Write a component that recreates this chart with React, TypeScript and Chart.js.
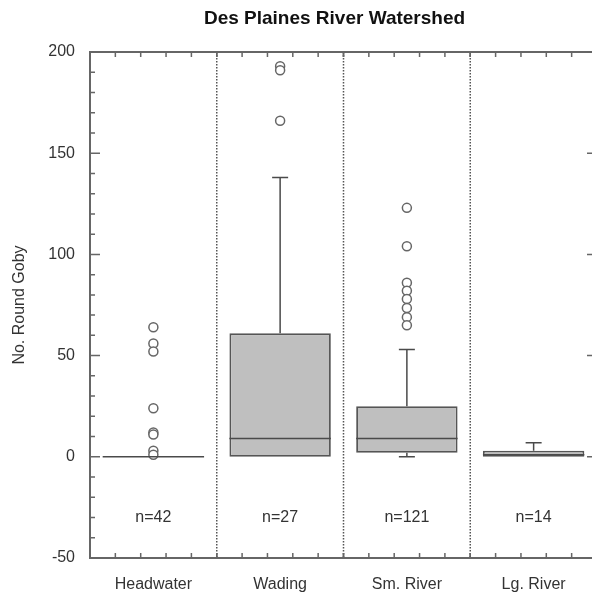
import React, { useEffect, useRef } from "react";
import { Chart, registerables } from "chart.js";

Chart.register(...registerables);

const titleText = "Des Plaines River Watershed";
const yAxisTitle = "No. Round Goby";
const categories = ["Headwater", "Wading", "Sm. River", "Lg. River"];
const q1 = [0, 0, 2, 0];
const q3 = [0, 61, 25, 3];
const medians = [0, 9, 9, 1];
const whiskerLow = [0, 0, 0, 0];
const whiskerHigh = [0, 138, 53, 7];
const nCounts = [42, 27, 121, 14];
const headwaterOutliers = [64, 56, 52, 24, 12, 11, 3, 1];
const wadingOutliers = [193, 191, 166];
const smRiverOutliers = [123, 104, 86, 82, 78, 73.5, 69, 65];
const lgRiverOutliers: number[] = [];
const yMin = -50;
const yMax = 200;
const yMajorStep = 50;
const yMinorStep = 10;
const nLabelValue = -30;

const FONT = "'Liberation Sans', Arial, Helvetica, sans-serif";

const outlierGroups = [headwaterOutliers, wadingOutliers, smRiverOutliers, lgRiverOutliers];

const decorPlugin = {
  id: "boxDecor",
  afterDatasetsDraw(chart: any) {
    const { ctx, chartArea: a, scales } = chart;
    const x = scales.x;
    const y = scales.y;
    const meta = chart.getDatasetMeta(0);
    const n = categories.length;
    ctx.save();

    // dotted dividers
    ctx.strokeStyle = "#555";
    ctx.lineWidth = 1.5;
    ctx.setLineDash([1.5, 1.5]);
    for (let i = 1; i < n; i++) {
      const xp = (x.getPixelForValue(i - 1) + x.getPixelForValue(i)) / 2;
      ctx.beginPath();
      ctx.moveTo(xp, a.top);
      ctx.lineTo(xp, a.bottom);
      ctx.stroke();
    }
    ctx.setLineDash([]);

    // medians and whiskers
    ctx.strokeStyle = "#4a4a4a";
    ctx.lineWidth = 1.5;
    for (let i = 0; i < n; i++) {
      const cx = x.getPixelForValue(i);
      const bar = meta.data[i];
      const half = bar ? bar.width / 2 : 50;
      const capHalf = 8;
      ctx.beginPath();
      ctx.moveTo(cx - half, y.getPixelForValue(medians[i]));
      ctx.lineTo(cx + half, y.getPixelForValue(medians[i]));
      ctx.stroke();
      if (whiskerHigh[i] > q3[i]) {
        const yt = y.getPixelForValue(whiskerHigh[i]);
        ctx.beginPath();
        ctx.moveTo(cx, y.getPixelForValue(q3[i]));
        ctx.lineTo(cx, yt);
        ctx.moveTo(cx - capHalf, yt);
        ctx.lineTo(cx + capHalf, yt);
        ctx.stroke();
      }
      if (whiskerLow[i] < q1[i]) {
        const yb = y.getPixelForValue(whiskerLow[i]);
        ctx.beginPath();
        ctx.moveTo(cx, y.getPixelForValue(q1[i]));
        ctx.lineTo(cx, yb);
        ctx.moveTo(cx - capHalf, yb);
        ctx.lineTo(cx + capHalf, yb);
        ctx.stroke();
      }
    }

    // n labels
    ctx.fillStyle = "#333";
    ctx.font = `16px ${FONT}`;
    ctx.textAlign = "center";
    ctx.textBaseline = "middle";
    for (let i = 0; i < n; i++) {
      ctx.fillText("n=" + nCounts[i], x.getPixelForValue(i), y.getPixelForValue(nLabelValue));
    }

    // frame
    ctx.strokeStyle = "#666";
    ctx.lineWidth = 2;
    ctx.strokeRect(a.left, a.top, a.right - a.left, a.bottom - a.top);

    // y ticks (inside, both sides)
    ctx.lineWidth = 1.5;
    for (let v = yMin; v <= yMax; v += yMinorStep) {
      const yp = y.getPixelForValue(v);
      const len = v % yMajorStep === 0 ? 10 : 5;
      ctx.beginPath();
      ctx.moveTo(a.left, yp);
      ctx.lineTo(a.left + len, yp);
      ctx.moveTo(a.right, yp);
      ctx.lineTo(a.right - len, yp);
      ctx.stroke();
    }
    // x ticks (inside, top and bottom), 5 per category
    for (let i = 0; i < n; i++) {
      const left = i === 0 ? x.left : (x.getPixelForValue(i - 1) + x.getPixelForValue(i)) / 2;
      const right = i === n - 1 ? x.right : (x.getPixelForValue(i) + x.getPixelForValue(i + 1)) / 2;
      for (let k = 0; k <= 5; k++) {
        const xp = left + ((right - left) * k) / 5;
        ctx.beginPath();
        ctx.moveTo(xp, a.top);
        ctx.lineTo(xp, a.top + 5);
        ctx.moveTo(xp, a.bottom);
        ctx.lineTo(xp, a.bottom - 5);
        ctx.stroke();
      }
    }

    // title
    ctx.fillStyle = "#111";
    ctx.font = `bold 19px ${FONT}`;
    ctx.textAlign = "center";
    ctx.textBaseline = "middle";
    ctx.fillText(titleText, (a.left + a.right) / 2 - 9, 19);

    ctx.restore();
  },
};

export default function App() {
  const ref = useRef<HTMLCanvasElement | null>(null);

  useEffect(() => {
    if (!ref.current) return;
    const outlierPoints: { x: string; y: number }[] = [];
    outlierGroups.forEach((g, i) => g.forEach((v) => outlierPoints.push({ x: categories[i], y: v })));

    const chart = new Chart(ref.current, {
      type: "bar",
      data: {
        labels: categories,
        datasets: [
          {
            type: "bar",
            data: categories.map((_, i) => [q1[i], q3[i]]) as any,
            backgroundColor: "#bfbfbf",
            borderColor: "#555",
            borderWidth: 1.8,
            borderSkipped: false,
            barPercentage: 0.8,
            categoryPercentage: 1,
            order: 2,
          },
          {
            type: "line",
            data: outlierPoints as any,
            showLine: false,
            pointRadius: 4.5,
            pointBorderWidth: 1.5,
            pointBorderColor: "#666",
            pointBackgroundColor: "#fff",
            order: 1,
          } as any,
        ],
      },
      options: {
        responsive: false,
        animation: false,
        devicePixelRatio: 1,
        layout: { padding: { top: 52, right: 2, bottom: 0, left: 0 } },
        plugins: {
          legend: { display: false },
          tooltip: { enabled: false },
          title: { display: false },
        },
        scales: {
          x: {
            type: "category",
            offset: true,
            grid: { display: false, drawTicks: false },
            border: { display: false },
            ticks: { font: { size: 16, family: FONT }, color: "#333", padding: 17 },
            afterFit: (s: any) => {
              s.height = 34;
            },
          },
          y: {
            min: yMin,
            max: yMax,
            grid: { display: false, drawTicks: false },
            border: { display: false },
            ticks: { stepSize: yMajorStep, font: { size: 16, family: FONT }, color: "#333", padding: 15 },
            title: {
              display: true,
              text: yAxisTitle,
              font: { size: 16, family: FONT },
              color: "#333",
              padding: { top: 10, bottom: 0 },
            },
            afterFit: (s: any) => {
              s.width = 90;
            },
          },
        },
      } as any,
      plugins: [decorPlugin],
    });
    return () => chart.destroy();
  }, []);

  return (
    <div
      style={{
        position: "fixed",
        left: 0,
        top: 0,
        width: 592,
        height: 592,
        overflow: "hidden",
        background: "#fff",
      }}
    >
      <canvas ref={ref} width={603} height={592} style={{ width: 603, height: 592, display: "block" }} />
    </div>
  );
}
